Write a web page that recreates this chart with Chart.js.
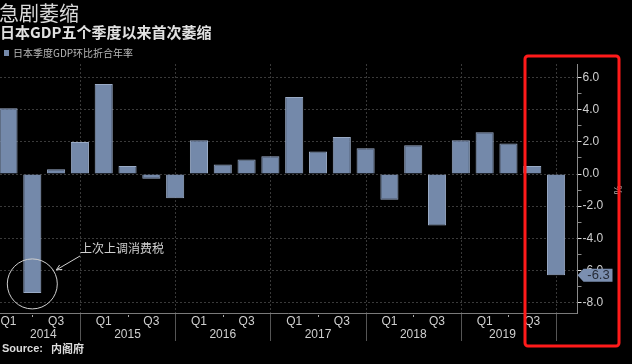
<!DOCTYPE html>
<html>
<head>
<meta charset="utf-8">
<script src="https://cdn.jsdelivr.net/npm/chart.js@4/dist/chart.umd.min.js"></script>
<style>
  html, body { margin: 0; padding: 0; background: #000; }
  canvas { display: block; }
</style>
</head>
<body>
<canvas id="gdpChart" width="632" height="364"></canvas>
<script>
// 日本季度GDP环比折合年率 (%)，2014Q1 - 2019Q4
const years = ['2014', '2015', '2016', '2017', '2018', '2019'];
const quarters = ['Q1', 'Q2', 'Q3', 'Q4'];
const gdpValues = [
    4.1, -7.4, 0.3, 2.0,
    5.6, 0.5, -0.3, -1.5,
    2.1, 0.6, 0.9, 1.1,
    4.8, 1.4, 2.3, 1.6,
    -1.6, 1.8, -3.2, 2.1,
    2.6, 1.9, 0.5, -6.3
];
const yTicks = [-8, -7, -6, -5, -4, -3, -2, -1, 0, 1, 2, 3, 4, 5, 6];

const title = '急剧萎缩';
const subtitle = '日本GDP五个季度以来首次萎缩';
const legendLabel = '日本季度GDP环比折合年率';
const noteText = '上次上调消费税';
const sourceText = '内阁府';

const barFill = '#7489aa';
const barEdge = '#9aabc6';
const textGrey = '#cfcfcf';
const cjk = '"Noto Sans CJK SC", "Noto Sans", sans-serif';
const latin = '"Liberation Sans Narrow", "Liberation Sans", Arial, sans-serif';

const decorPlugin = {
    id: 'decor',
    beforeDraw(chart) {
        const { ctx, chartArea, scales } = chart;
        const x = scales.x;
        ctx.save();
        ctx.fillStyle = '#000';
        ctx.fillRect(0, 0, chart.width, chart.height);

        // year separators at each Q4
        for (let i = 3; i < gdpValues.length; i += 4) {
            const px = Math.round(x.getPixelForValue(i)) + 0.5;
            ctx.strokeStyle = '#383838';
            ctx.lineWidth = 1;
            ctx.setLineDash([2, 2]);
            ctx.beginPath();
            ctx.moveTo(px, chartArea.top);
            ctx.lineTo(px, chartArea.bottom);
            ctx.stroke();
            ctx.setLineDash([]);
            ctx.strokeStyle = '#555';
            ctx.beginPath();
            ctx.moveTo(px, chartArea.bottom);
            ctx.lineTo(px, chartArea.bottom + 28);
            ctx.stroke();
        }
        ctx.restore();
    },
    afterDraw(chart) {
        const { ctx, chartArea, scales } = chart;
        const x = scales.x, y = scales.y;
        ctx.save();

        // x axis line
        ctx.strokeStyle = '#7a7a7a';
        ctx.lineWidth = 1;
        ctx.beginPath();
        ctx.moveTo(0, chartArea.bottom + 0.5);
        ctx.lineTo(chartArea.right, chartArea.bottom + 0.5);
        ctx.stroke();

        // quarter labels and year labels
        ctx.fillStyle = textGrey;
        ctx.font = '12px ' + latin;
        ctx.textAlign = 'center';
        ctx.textBaseline = 'middle';
        gdpValues.forEach((v, i) => {
            const q = quarters[i % 4];
            const px = x.getPixelForValue(i);
            if (q === 'Q1' || q === 'Q3') {
                ctx.fillText(q, px, chartArea.bottom + 9);
            } else if (q === 'Q2') {
                ctx.fillStyle = '#aaa';
                ctx.fillRect(Math.round(px), chartArea.bottom + 2, 1, 2);
                ctx.fillStyle = textGrey;
            }
        });
        years.forEach((yr, k) => {
            let px = x.getPixelForValue(k * 4 + 1);
            if (k === 0) px += 11;
            if (k === years.length - 1) px -= 6;
            ctx.fillText(yr, px, chartArea.bottom + 22);
        });

        // source
        ctx.textAlign = 'left';
        ctx.fillStyle = '#dcdcdc';
        ctx.font = 'bold 11px ' + latin;
        ctx.fillText('Source:', 2, 349);
        const sw = ctx.measureText('Source: ').width;
        ctx.font = 'bold 11px ' + cjk;
        ctx.fillText(sourceText, 2 + sw + 5, 349);

        // titles and legend
        ctx.fillStyle = '#d9d9d9';
        ctx.font = '20px ' + cjk;
        ctx.fillText(title, -1, 13);
        ctx.fillStyle = '#e2e2e2';
        ctx.font = 'bold 15px ' + cjk;
        ctx.fillText(subtitle, 0, 32);
        ctx.fillStyle = barFill;
        ctx.fillRect(4, 50, 5, 6);
        ctx.fillStyle = '#b8b8b8';
        ctx.font = '10px ' + cjk;
        ctx.fillText(legendLabel, 13, 53);

        // annotation: circle around the 2014 Q2 bar
        const cx = x.getPixelForValue(1);
        const cy = y.getPixelForValue(gdpValues[1]) - 9;
        ctx.strokeStyle = '#cfcfcf';
        ctx.lineWidth = 1;
        ctx.beginPath();
        ctx.arc(cx, cy, 25, 0, Math.PI * 2);
        ctx.stroke();
        // arrow
        const ax0 = 80, ay0 = 256, ax1 = cx + 24, ay1 = cy - 14;
        ctx.beginPath();
        ctx.moveTo(ax0, ay0);
        ctx.lineTo(ax1, ay1);
        ctx.stroke();
        const ang = Math.atan2(ay1 - ay0, ax1 - ax0);
        ctx.beginPath();
        ctx.moveTo(ax1 - 6 * Math.cos(ang - 0.45), ay1 - 6 * Math.sin(ang - 0.45));
        ctx.lineTo(ax1, ay1);
        ctx.lineTo(ax1 - 6 * Math.cos(ang + 0.45), ay1 - 6 * Math.sin(ang + 0.45));
        ctx.stroke();
        ctx.fillStyle = '#d0d0d0';
        ctx.font = '12px ' + cjk;
        ctx.fillText(noteText, 80, 248);

        // last value badge
        const last = gdpValues[gdpValues.length - 1];
        const by = y.getPixelForValue(last);
        const bx = chartArea.right;
        ctx.fillStyle = '#7b8fb0';
        ctx.beginPath();
        ctx.moveTo(bx, by);
        ctx.lineTo(bx + 6, by - 6.5);
        ctx.lineTo(bx + 35, by - 6.5);
        ctx.lineTo(bx + 35, by + 6.5);
        ctx.lineTo(bx + 6, by + 6.5);
        ctx.closePath();
        ctx.fill();
        ctx.fillStyle = '#262c38';
        ctx.font = '13px ' + latin;
        ctx.textAlign = 'center';
        ctx.fillText(last.toFixed(1), bx + 21, by + 0.5);

        // unit, rotated
        ctx.save();
        ctx.translate(617, 190);
        ctx.rotate(Math.PI / 2);
        ctx.fillStyle = '#b0b0b0';
        ctx.font = '10px ' + latin;
        ctx.fillText('%', 0, 0);
        ctx.restore();

        // red highlight box
        ctx.strokeStyle = '#ff1a1a';
        ctx.lineWidth = 3;
        ctx.beginPath();
        if (ctx.roundRect) ctx.roundRect(525, 56, 94, 290, 3);
        else ctx.rect(525, 56, 94, 290);
        ctx.stroke();

        ctx.restore();
    }
};

const ctx = document.getElementById('gdpChart').getContext('2d');
new Chart(ctx, {
    type: 'bar',
    data: {
        datasets: [{
            label: legendLabel,
            data: gdpValues.map((v, i) => ({ x: i, y: v })),
            backgroundColor: barFill,
            borderColor: barEdge,
            borderWidth: 1,
            categoryPercentage: 1,
            barPercentage: 0.76
        }]
    },
    options: {
        responsive: false,
        animation: false,
        devicePixelRatio: 1,
        layout: { padding: { top: 64, bottom: 51, left: 0, right: 0 } },
        plugins: {
            legend: { display: false },
            tooltip: { enabled: false }
        },
        scales: {
            x: {
                type: 'linear',
                min: -0.357,
                max: 23.9,
                offset: false,
                display: false
            },
            y: {
                position: 'right',
                min: -8.65,
                max: 6.85,
                afterBuildTicks: s => { s.ticks = yTicks.map(v => ({ value: v })); },
                afterFit: s => { s.width = 54.5; },
                border: { color: '#8a8a8a', width: 1, dash: [2, 2] },
                grid: {
                    color: c => (c.tick && c.tick.value % 2 === 0) ? '#3a3a3a' : 'rgba(0,0,0,0)',
                    tickColor: c => (c.tick && c.tick.value % 2 === 0) ? '#e0e0e0' : '#888',
                    tickLength: 4,
                    drawTicks: true
                },
                ticks: {
                    color: textGrey,
                    padding: 1,
                    font: { size: 12, family: latin },
                    callback: v => v % 2 === 0 ? v.toFixed(1) : ''
                }
            }
        }
    },
    plugins: [decorPlugin]
});
</script>
</body>
</html>
